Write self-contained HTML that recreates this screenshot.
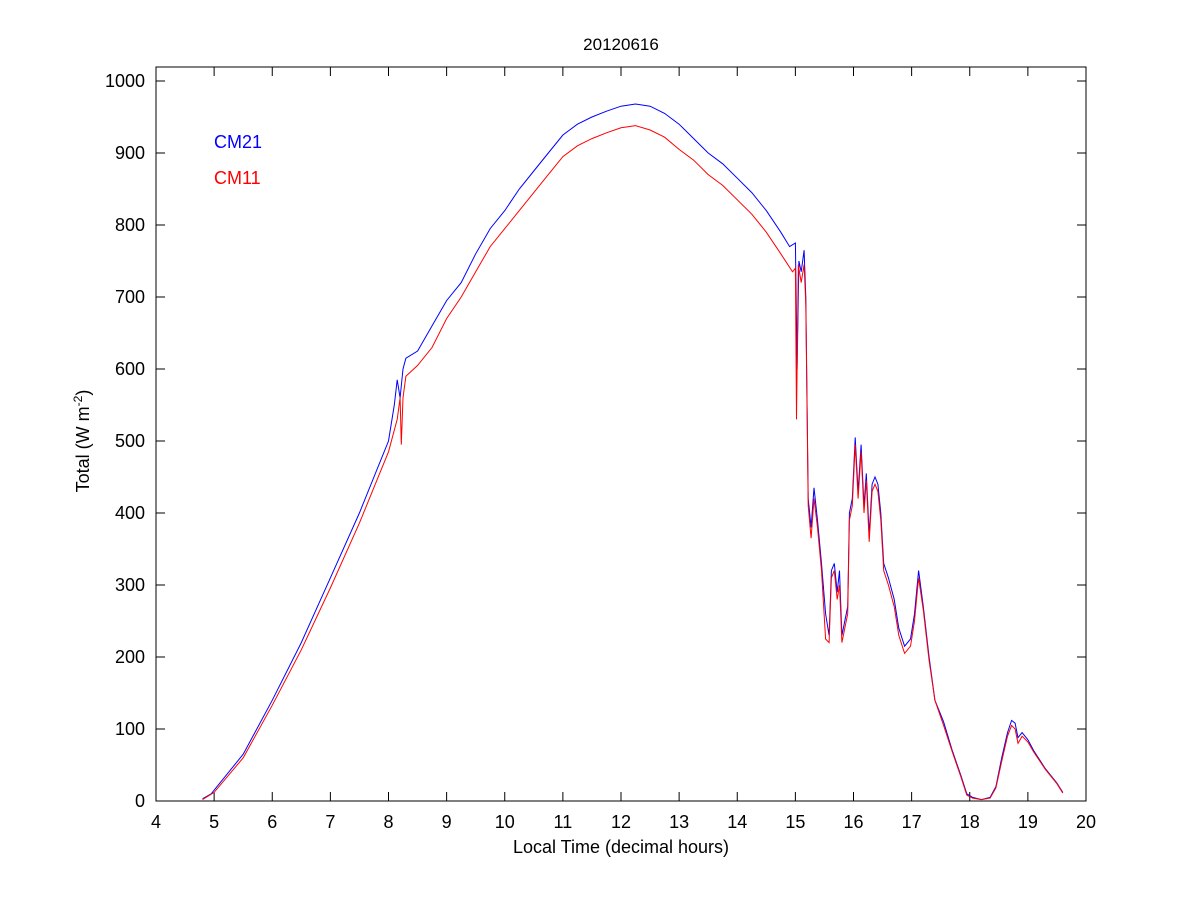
<!DOCTYPE html>
<html><head><meta charset="utf-8"><style>
body{margin:0;background:#fff;}
svg{display:block;font-family:"Liberation Sans",Arial,sans-serif;}
</style></head><body>
<svg id="chart" width="1200" height="900" viewBox="0 0 1200 900" xmlns="http://www.w3.org/2000/svg">
<rect width="1200" height="900" fill="#fff"/>
<text x="621" y="50" font-size="17" text-anchor="middle">20120616</text>
<text x="621" y="853" font-size="18" text-anchor="middle">Local Time (decimal hours)</text>
<text transform="translate(89,441) rotate(-90)" font-size="18" text-anchor="middle">Total (W m<tspan dy="-7" font-size="12">-2</tspan><tspan dy="7">)</tspan></text>
<g id="ticks"></g>
<g id="series"></g>
<rect x="156" y="67" width="930" height="734" fill="none" stroke="#000" stroke-width="1"/>
<text x="214" y="148" font-size="18" fill="#0000ff">CM21</text>
<text x="214" y="184" font-size="18" fill="#ff0000">CM11</text>
</svg>
<script>
const xTicks=[4,5,6,7,8,9,10,11,12,13,14,15,16,17,18,19,20];
const yTicks=[0,100,200,300,400,500,600,700,800,900,1000];
const cm21Time=[4.8,4.95,5.0,5.5,6,6.5,7,7.5,8,8.1,8.15,8.2,8.25,8.3,8.5,8.75,9,9.25,9.5,9.75,10,10.25,10.5,10.75,11,11.25,11.5,11.75,12,12.25,12.5,12.75,13,13.25,13.5,13.75,14,14.25,14.5,14.75,14.9,15.0,15.03,15.06,15.1,15.15,15.18,15.22,15.27,15.32,15.38,15.45,15.52,15.58,15.62,15.67,15.72,15.76,15.8,15.85,15.9,15.93,15.98,16.03,16.08,16.13,16.18,16.22,16.27,16.32,16.37,16.42,16.47,16.52,16.6,16.7,16.78,16.88,16.98,17.05,17.12,17.2,17.3,17.4,17.55,17.7,17.85,17.95,18.05,18.2,18.35,18.45,18.55,18.65,18.72,18.78,18.83,18.9,19.0,19.1,19.3,19.5,19.6];
const cm21Values=[3,10,15,65,140,220,310,400,500,550,585,560,600,615,625,660,695,720,760,795,820,850,875,900,925,940,950,958,965,968,965,955,940,920,900,885,865,845,820,790,770,775,600,750,735,765,700,420,380,435,390,330,260,230,320,330,290,320,230,250,270,400,420,505,430,495,410,455,370,440,450,440,400,330,310,280,240,215,225,260,320,270,200,140,110,70,35,10,5,2,5,20,60,95,112,108,88,95,85,70,45,25,12];
const cm11Time=[4.8,5.0,5.5,6,6.5,7,7.5,8,8.15,8.2,8.22,8.25,8.3,8.5,8.75,9,9.25,9.5,9.75,10,10.25,10.5,10.75,11,11.25,11.5,11.75,12,12.25,12.5,12.75,13,13.25,13.5,13.75,14,14.25,14.5,14.75,14.95,15.0,15.02,15.05,15.1,15.15,15.18,15.22,15.27,15.32,15.38,15.45,15.52,15.58,15.62,15.67,15.72,15.76,15.8,15.85,15.9,15.93,15.98,16.03,16.08,16.13,16.18,16.22,16.27,16.32,16.37,16.42,16.47,16.52,16.6,16.7,16.78,16.88,16.98,17.05,17.12,17.2,17.3,17.4,17.55,17.7,17.85,17.95,18.05,18.2,18.35,18.45,18.55,18.65,18.72,18.78,18.83,18.9,19.0,19.1,19.3,19.5,19.6];
const cm11Values=[2,12,60,133,210,296,386,485,530,560,495,560,590,605,630,670,700,735,770,795,820,845,870,895,910,920,928,935,938,932,922,905,890,870,855,835,815,790,760,735,740,530,745,720,745,690,410,365,420,380,320,225,220,310,320,280,300,220,240,260,390,410,495,420,485,400,445,360,430,440,430,390,320,300,270,230,205,215,250,310,265,195,140,105,68,33,8,4,2,4,18,55,90,105,100,80,90,82,68,44,24,11];
const X=v=>156+(v-4)*930/16;
const Y=v=>801-v*0.72;
const NS="http://www.w3.org/2000/svg";
const tg=document.getElementById('ticks');
function mk(tag,attrs,parent){const e=document.createElementNS(NS,tag);for(const k in attrs)e.setAttribute(k,attrs[k]);parent.appendChild(e);return e;}
xTicks.forEach(t=>{
  const x=X(t);
  const a=mk('line',{x1:x,x2:x,y1:801,y2:792,stroke:'#000'},tg);
  
  
  const b=mk('line',{x1:x,x2:x,y1:67,y2:76,stroke:'#000'},tg);
  
  
  const l=mk('text',{x:x,y:828,'font-size':18,'text-anchor':'middle'},tg);
  l.textContent=t;
  
  
});
yTicks.forEach(t=>{
  const y=Y(t);
  const a=mk('line',{x1:156,x2:165,y1:y,y2:y,stroke:'#000'},tg);
  
  
  const b=mk('line',{x1:1086,x2:1077,y1:y,y2:y,stroke:'#000'},tg);
  
  
  const l=mk('text',{x:145,y:y+6,'font-size':18,'text-anchor':'end'},tg);
  l.textContent=t;
  
  
});
const sg=document.getElementById('series');
function line(ts,vs,color,name){
  const d=ts.map((t,i)=>(i?'L':'M')+X(t).toFixed(1)+','+Y(vs[i]).toFixed(1)).join('');
  const p=mk('path',{d:d,fill:'none',stroke:color,'stroke-width':1},sg);
  
  
}
line(cm21Time,cm21Values,'#0000ff','cm21-line');
line(cm11Time,cm11Values,'#ff0000','cm11-line');
</script>
</body></html>
